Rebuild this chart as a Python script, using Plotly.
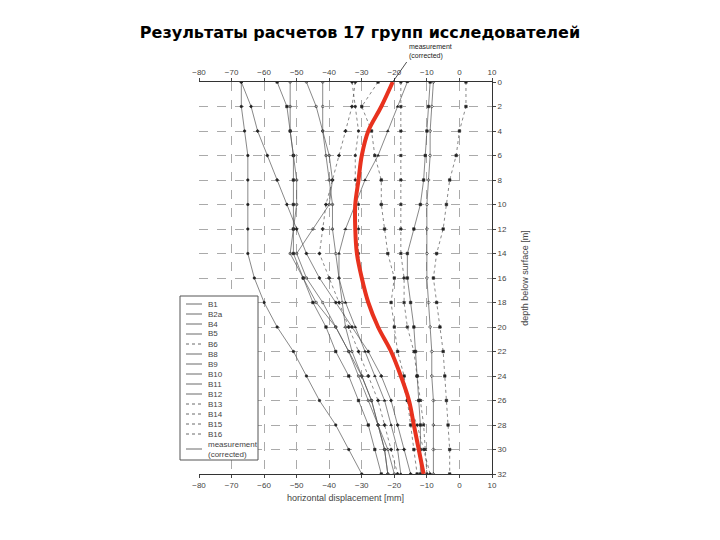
import plotly.graph_objects as go

depth = [0, 2, 4, 6, 8, 10, 12, 14, 16, 18, 20, 22, 24, 26, 28, 30, 32]

names = ["B1", "B2a", "B4", "B5", "B6", "B8", "B9", "B10", "B11", "B12",
         "B13", "B14", "B15", "B16"]
b1 = [-67, -67, -66, -65, -65, -65, -65, -65, -63, -60, -56, -51, -47, -43, -38, -34, -30]
b2a = [-56, -53, -52, -51, -51, -51, -51, -51, -48, -45, -41, -38, -34, -31, -28, -26, -24]
b4 = [-9, -9.5, -10, -10.5, -11, -12, -14, -16, -16, -15, -14, -13.5, -13, -12.5, -12, -12, -12]
b5 = [-67, -64, -62, -59, -56, -53, -50, -47, -43, -38, -33, -28, -24, -21, -19, -17, -15]
b6 = [-32, -33, -35, -37, -39, -41, -42, -43, -40, -37, -34, -31, -28, -25, -23, -21, -19]
b8 = [-47, -44, -42, -40, -39, -40, -45, -50, -47, -42, -38, -34, -31, -28, -25, -22, -20]
b9 = [-52, -52, -52, -51, -50, -50, -51, -52, -48, -44, -38, -34, -30, -27, -25, -23, -22]
b10 = [-16, -19, -22, -25, -29, -32, -35, -37, -37, -35, -32, -29, -26, -23, -21, -19, -18]
b11 = [-42, -42, -42, -41, -40, -39, -39, -38, -37, -36, -35, -33, -30, -27, -25, -23, -22]
b12 = [-8, -8.5, -9, -9, -9.5, -10, -10, -10, -10, -9.5, -9, -8.5, -8.5, -8, -8, -8, -8]
b13 = [-25, -30, -27, -26, -24, -24, -23, -22, -20, -21, -20, -19, -17, -16, -15, -14, -13]
b14 = [2, 2, 0, -1, -3, -4, -5, -7, -8, -7, -6, -5, -4.5, -4, -3.5, -3, -3]
b15 = [-18, -18, -18, -18, -18, -18, -18, -18, -17, -17, -16, -14, -13, -12, -11, -10.5, -10]
b16 = [-33, -32, -31, -32, -32, -31, -31, -31, -30, -28, -25, -21, -18, -16, -13, -11, -9]
series = [b1, b2a, b4, b5, b6, b8, b9, b10, b11, b12, b13, b14, b15, b16]
symbols = ["circle", "square", "square", "diamond", "cross", "circle-open", "circle-open",
           "triangle-up", "circle-open", "diamond-open", "square", "square", "x", "circle"]
dashes = ["solid", "solid", "solid", "solid", "dot", "solid", "solid", "solid",
          "solid", "solid", "dot", "dot", "dot", "dot"]

meas = [-20.5, -24, -28, -30, -31, -32, -32, -31.5, -30, -28, -25, -21, -18, -15.5, -14, -12.5, -11]

xticks = [-80, -70, -60, -50, -40, -30, -20, -10, 0, 10]

W, H, OFF = 720, 540, 8  # page body margin shifts everything by 8px


def px(x):
    return (x - OFF) / W


def py(y):
    return 1 - (y - OFF) / H


fig = go.Figure()
for nm, vals, sym, ds in zip(names, series, symbols, dashes):
    fig.add_trace(go.Scatter(x=vals, y=depth, name=nm, mode="lines+markers", showlegend=False,
                             line=dict(color="#555", width=0.7, dash=ds),
                             marker=dict(symbol=sym, size=2.5, color="#222",
                                         line=dict(color="#222", width=0.6))))
fig.add_trace(go.Scatter(x=meas, y=depth, name="measurement (corrected)", mode="lines",
                         showlegend=False,
                         line=dict(color="#e8321e", width=4, shape="spline")))

axis_common = dict(range=[-80, 10], tickvals=xticks, showgrid=True, gridcolor="#aaa",
                   griddash="dash", gridwidth=0.6, showline=True, linecolor="#333",
                   ticks="outside", ticklen=3, tickfont=dict(size=8, color="#444"),
                   zeroline=False, mirror=False, automargin=False)
fig.update_layout(
    width=W, height=H, paper_bgcolor="white", plot_bgcolor="white",
    margin=dict(l=0, r=0, t=0, b=0), showlegend=False,
    title=dict(text="<b>Результаты расчетов 17 групп исследователей</b>", x=px(360),
               y=py(32), yanchor="middle", xanchor="center",
               font=dict(family="DejaVu Sans", size=16, color="black")),
    xaxis=dict(domain=[px(199), px(492)], title=dict(text="horizontal displacement [mm]",
               font=dict(size=9, color="#444"), standoff=6), **axis_common),
    xaxis2=dict(overlaying="x", side="top", matches="x", **axis_common),
    yaxis=dict(domain=[py(474), py(82)], range=[32, 0], tickvals=list(range(0, 33, 2)),
               side="right", showgrid=True, gridcolor="#aaa", griddash="dash", gridwidth=0.6,
               showline=True, linecolor="#333", ticks="outside", ticklen=3,
               tickfont=dict(size=8, color="#444"), zeroline=False, automargin=False,
               title=dict(text="depth below surface [m]", font=dict(size=9, color="#444"))),
    font=dict(family="Liberation Sans"),
)
fig.add_trace(go.Scatter(x=[None], y=[None], xaxis="x2", showlegend=False))

# hand-made compact legend box
lx0, lx1, ly_top, ly_bot = px(180), px(258), py(296), py(460)
fig.add_shape(type="rect", xref="paper", yref="paper", x0=lx0, x1=lx1, y0=ly_bot, y1=ly_top,
              line=dict(color="#555", width=1), fillcolor="white", layer="above")
labels = names + ["measurement<br>(corrected)"]
for i, lab in enumerate(labels):
    yy = ly_top - (8 + i * 10) / H
    if i == len(labels) - 1:
        yy -= 5 / H
    ds = dashes[i] if i < len(dashes) else "solid"
    fig.add_shape(type="line", xref="paper", yref="paper", x0=lx0 + 6 / W, x1=lx0 + 22 / W,
                  y0=yy, y1=yy, line=dict(color="#444", width=0.8, dash=ds), layer="above")
    fig.add_annotation(xref="paper", yref="paper", x=lx0 + 26 / W, y=yy, text=lab,
                       showarrow=False, xanchor="left", yanchor="middle", align="left",
                       font=dict(size=8, color="#444"))

fig.add_annotation(x=-20.5, y=0, ax=14, ay=-20, text="measurement<br>(corrected)",
                   showarrow=True, arrowhead=0, arrowwidth=0.8, arrowcolor="#222",
                   xanchor="left", yanchor="bottom", font=dict(size=7, color="#222"),
                   align="left")
fig.write_html("out.html")
